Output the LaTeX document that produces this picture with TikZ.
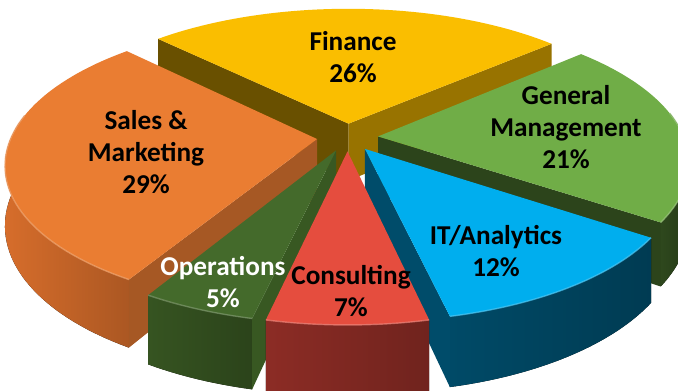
\documentclass[tikz,border=0pt]{standalone}
\usepackage{fontspec}
\setmainfont{Carlito}

\begin{document}
\begin{tikzpicture}[x=0.02cm, y=-0.02cm,
    declare function={sc(\q)=1/(1+0.17*\q);
      px(\p,\q)=347.5+306*\p*sc(\q);
      py(\q,\h)=137.3+(-138.7*\q+58*\h)*sc(\q);},
    lbl/.style={font=\fontsize{15.5}{18.3}\selectfont\bfseries, align=center, inner sep=0pt}]
    % Colors
    \definecolor{fintop}{RGB}{250,190,0}
    \definecolor{finright}{RGB}{152,115,0}
    \definecolor{finleft}{RGB}{105,80,0}
    \definecolor{saltop}{RGB}{234,125,50}
    \definecolor{salwall}{RGB}{214,109,43}
    \definecolor{salface}{RGB}{166,88,36}
    \definecolor{gentop}{RGB}{112,173,71}
    \definecolor{genwall}{RGB}{46,72,29}
    \definecolor{genface}{RGB}{44,68,27}
    \definecolor{opstop}{RGB}{68,106,43}
    \definecolor{opswall}{RGB}{54,84,33}
    \definecolor{opsface}{RGB}{56,88,34}
    \definecolor{ittop}{RGB}{0,174,238}
    \definecolor{itwall}{RGB}{0,74,103}
    \definecolor{itface}{RGB}{0,76,106}
    \definecolor{contop}{RGB}{229,77,62}
    \definecolor{conwall}{RGB}{140,44,37}

    \fill[white] (0,0) rectangle (678,391);
    \useasboundingbox (0,0) rectangle (678,391);
    \clip (0,0) rectangle (678,391);

    % Slices, back to front
    \foreach \aone/\atwo/\ctop/\cwall/\cfa/\cfb in {
        41.4/135/fintop/fintop/finright/finleft,
        135/239.4/saltop/salwall/salface/salface,
        325.8/401.4/gentop/genwall/genface/genface,
        239.4/257.4/opstop/opswall/opsface/opsface,
        282.6/325.8/ittop/itwall/itface/itface,
        257.4/282.6/contop/conwall/conwall/conwall} {
        \pgfmathsetmacro\amid{(\aone+\atwo)/2}
        \pgfmathsetmacro\apx{0.1*cos(\amid)}
        \pgfmathsetmacro\apz{0.1*sin(\amid)}
        \pgfmathsetmacro\bone{max(\aone,170)}
        \pgfmathsetmacro\btwo{min(\atwo,370)}
        \pgfmathtruncatemacro\haswall{\btwo>\bone}
        \pgfmathtruncatemacro\showa{cos(\aone)>0}
        \pgfmathtruncatemacro\showb{cos(\atwo)<0}
        % outer wall
        \ifnum\haswall=1
        \fill[left color=\cwall, right color=\cwall!80!black] plot[variable=\t, domain=\bone:\btwo, samples=40]
            ({px(\apx+cos(\t),\apz+sin(\t))},{py(\apz+sin(\t),0)})
          -- plot[variable=\t, domain=\btwo:\bone, samples=40]
            ({px(\apx+cos(\t),\apz+sin(\t))},{py(\apz+sin(\t),1)}) -- cycle;
        \fi
        % cut faces
        \ifnum\showa=1
        \fill[\cfa] ({px(\apx,\apz)},{py(\apz,0)})
          -- ({px(\apx+cos(\aone),\apz+sin(\aone))},{py(\apz+sin(\aone),0)})
          -- ({px(\apx+cos(\aone),\apz+sin(\aone))},{py(\apz+sin(\aone),1)})
          -- ({px(\apx,\apz)},{py(\apz,1)}) -- cycle;
        \fi
        \ifnum\showb=1
        \fill[\cfb] ({px(\apx,\apz)},{py(\apz,0)})
          -- ({px(\apx+cos(\atwo),\apz+sin(\atwo))},{py(\apz+sin(\atwo),0)})
          -- ({px(\apx+cos(\atwo),\apz+sin(\atwo))},{py(\apz+sin(\atwo),1)})
          -- ({px(\apx,\apz)},{py(\apz,1)}) -- cycle;
        \fi
        % top
        \fill[\ctop] ({px(\apx,\apz)},{py(\apz,0)})
          -- plot[variable=\t, domain=\aone:\atwo, samples=50]
            ({px(\apx+cos(\t),\apz+sin(\t))},{py(\apz+sin(\t),0)}) -- cycle;
        % rim highlight
        \ifnum\haswall=1
        \draw[\ctop!70!white, line width=0.8pt, opacity=0.7] plot[variable=\t, domain=\bone:\btwo, samples=40]
            ({px(\apx+cos(\t),\apz+sin(\t))},{py(\apz+sin(\t),0)});
        \fi
    }

    % Labels
    \node[lbl] (fin) at (353,57) {Finance\\26\%};
    \node[lbl] (sal) at (146,152) {Sales \&\\Marketing\\29\%};
    \node[lbl] (gen) at (566,127) {General\\Management\\21\%};
    \node[lbl] (ita) at (496,251) {IT/Analytics\\12\%};
    \node[lbl] (con) at (351,291) {Consulting\\7\%};
    \node[lbl, white] (ops) at (223,282) {Operations\\5\%};
\end{tikzpicture}
\end{document}
